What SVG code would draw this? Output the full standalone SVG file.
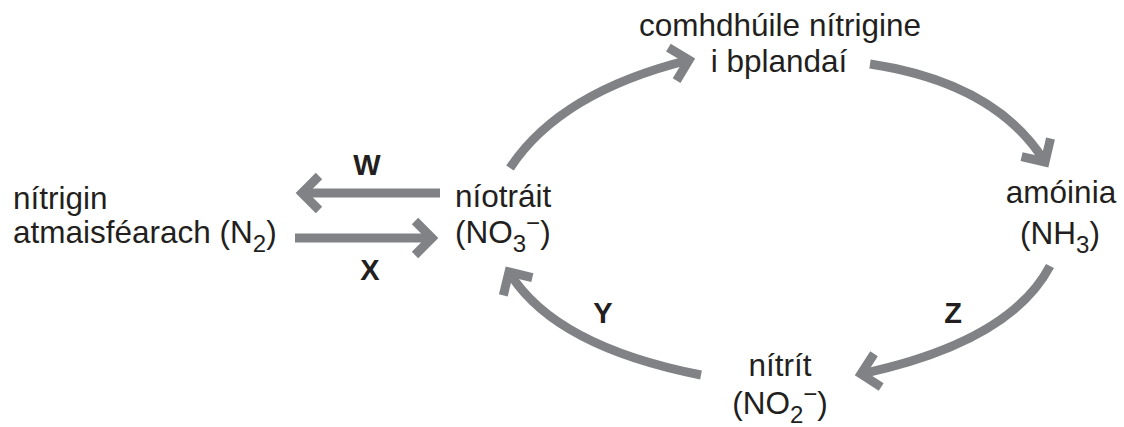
<svg xmlns="http://www.w3.org/2000/svg" width="1124" height="427" viewBox="0 0 1124 427">
  <style>
    .t { font-family: "Liberation Sans", Arial, sans-serif; font-size: 31.5px; fill: #231f20; }
    .lbl { font-family: "Liberation Sans", Arial, sans-serif; font-size: 29px; font-weight: bold; fill: #231f20; text-anchor: middle; }
    .mid { text-anchor: middle; }
    .arr { fill: none; stroke: #808285; stroke-width: 9; stroke-linecap: butt; marker-end: url(#chev); }
  </style>
  <defs>
    <marker id="chev" markerUnits="userSpaceOnUse" markerWidth="60" markerHeight="60" viewBox="-30 -30 60 60" refX="0" refY="0" orient="auto">
      <path d="M-17,-17 L0,0 L-17,17" fill="none" stroke="#808285" stroke-width="9" stroke-linejoin="miter" stroke-miterlimit="4"/>
    </marker>
  </defs>
  <rect width="1124" height="427" fill="#ffffff"/>

  <g id="connectors">
    <path id="arrow-W" class="arr" d="M440,193 L302,193"/>
    <path id="arrow-X" class="arr" d="M295,238 L432,238"/>
    <path id="arrow-uptake" class="arr" d="M510,168 Q560,92 689,60"/>
    <path id="arrow-decomp" class="arr" d="M870,64 Q996,83 1045,162"/>
    <path id="arrow-Z" class="arr" d="M1050,266 Q1010,342 861,374"/>
    <path id="arrow-Y" class="arr" d="M701,375 Q554,346 509,272"/>
  </g>

  <g id="node-n2">
    <text class="t" x="13" y="209">nítrigin</text>
    <text class="t" x="13" y="243">atmaisféarach (N<tspan font-size="24" dy="9">2</tspan><tspan dy="-9">)</tspan></text>
  </g>

  <g id="node-nitrate">
    <text class="t" x="455" y="207">níotráit</text>
    <text class="t" x="455" y="243">(NO<tspan font-size="24" dy="9">3</tspan><tspan font-size="24" dy="-21">−</tspan><tspan dy="12">)</tspan></text>
  </g>

  <g id="node-plants">
    <text class="t mid" x="780" y="36">comhdhúile nítrigine</text>
    <text class="t mid" x="779" y="72">i bplandaí</text>
  </g>

  <g id="node-ammonia">
    <text class="t mid" x="1061" y="203">amóinia</text>
    <text class="t mid" x="1060" y="244">(NH<tspan font-size="24" dy="9">3</tspan><tspan dy="-9">)</tspan></text>
  </g>

  <g id="node-nitrite">
    <text class="t mid" x="780" y="376">nítrít</text>
    <text class="t mid" x="780" y="414">(NO<tspan font-size="24" dy="9">2</tspan><tspan font-size="24" dy="-21">−</tspan><tspan dy="12">)</tspan></text>
  </g>

  <g id="labels">
    <text class="lbl" x="367" y="175">W</text>
    <text class="lbl" x="370" y="280">X</text>
    <text class="lbl" x="603" y="323">Y</text>
    <text class="lbl" x="953" y="323">Z</text>
  </g>
</svg>
